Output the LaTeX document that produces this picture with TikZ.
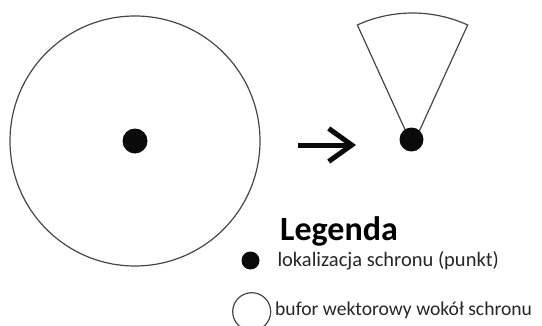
\documentclass[tikz,border=0pt]{standalone}
\usepackage{fontspec}
\setmainfont{Carlito}
\usetikzlibrary{arrows.meta,positioning}
\definecolor{lineCol}{RGB}{70, 70, 70}
\definecolor{dotCol}{RGB}{10, 10, 10}

\begin{document}
\begin{tikzpicture}[
    x=1pt, y=1pt,
    % Buffer circle style
    bufferCircle/.style={
        circle,
        draw=lineCol,
        line width=1.2pt,
        inner sep=0pt
    },
    % Shelter point style
    shelterDot/.style={
        circle,
        fill=dotCol,
        inner sep=0pt
    },
    % Legend text style
    legendText/.style={
        anchor=base west,
        inner sep=0pt,
        font=\fontsize{20.5}{24}\selectfont,
        text=black!85
    },
    % Direction arrow style
    moveArrow/.style={
        -{Straight Barb[length=23pt,width=33pt]},
        line width=5pt,
        draw=dotCol
    }
]

    \useasboundingbox (0,0) rectangle (542,325);
    \clip (0,0) rectangle (542,325);

    % Full circular buffer around the shelter
    \node[bufferCircle, minimum size=250pt] (bigBuf) at (135,184) {};
    \node[shelterDot, minimum size=25pt] (leftDot) at (bigBuf.center) {};

    % Sector buffer around the shelter
    \coordinate (apex) at (412.5,179);
    \draw[draw=lineCol, line width=1.2pt]
        (apex) -- ++(65.5:133) arc[start angle=65.5, end angle=114.5, radius=133] -- cycle;
    \node[shelterDot, minimum size=24pt] (rightDot) at (411.5,185.5) {};

    % Arrow between the two variants
    \coordinate (arrS) at (298,180);
    \coordinate (arrE) at (356,180);
    \draw[moveArrow] (arrS) -- (arrE);

    % Legend
    \node[legendText, font=\fontsize{34}{40}\selectfont\bfseries, text=black] (legTitle) at (280,84.5) {Legenda};
    \node[shelterDot, minimum size=18pt] (legDot) at (250.5,64.5) {};
    \node[legendText] (legDotText) at (277.3,58.3) {lokalizacja schronu (punkt)};
    \node[bufferCircle, minimum size=38pt] (legBuf) at (251.7,13.3) {};
    \node[legendText, font=\fontsize{19.6}{23}\selectfont] (legBufText) at (275,9.3) {bufor wektorowy wokół schronu};

\end{tikzpicture}
\end{document}
